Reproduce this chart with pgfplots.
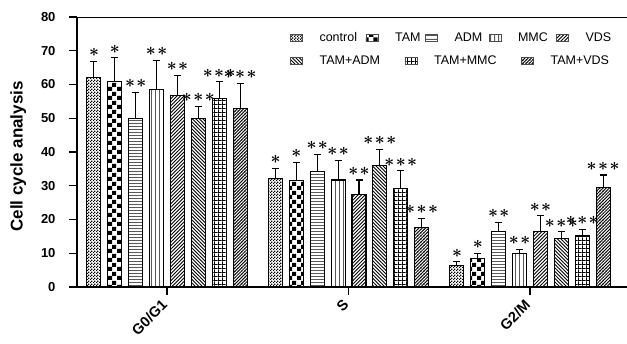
\documentclass[border=0pt]{standalone}
\usepackage{fontspec}
\setmainfont{Liberation Sans}
\usepackage{pgfplots}
\pgfplotsset{compat=1.18}
\usetikzlibrary{patterns,calc}

\pgfdeclarepatternformonly{pcontrol}{\pgfqpoint{0pt}{0pt}}{\pgfqpoint{3pt}{3pt}}{\pgfqpoint{3pt}{3pt}}{%
 \pgfpathrectangle{\pgfqpoint{0pt}{0pt}}{\pgfqpoint{1.5pt}{1.5pt}}%
 \pgfpathrectangle{\pgfqpoint{1.5pt}{1.5pt}}{\pgfqpoint{1.5pt}{1.5pt}}%
 \pgfusepath{fill}}
\pgfdeclarepatternformonly{ptam}{\pgfqpoint{0pt}{0pt}}{\pgfqpoint{9pt}{9pt}}{\pgfqpoint{9pt}{9pt}}{%
 \pgfpathrectangle{\pgfqpoint{0pt}{0pt}}{\pgfqpoint{4.5pt}{4.5pt}}%
 \pgfpathrectangle{\pgfqpoint{4.5pt}{4.5pt}}{\pgfqpoint{4.5pt}{4.5pt}}%
 \pgfusepath{fill}}
\pgfdeclarepatternformonly{padm}{\pgfqpoint{0pt}{0pt}}{\pgfqpoint{1pt}{3.4pt}}{\pgfqpoint{1pt}{3.4pt}}{%
 \pgfpathrectangle{\pgfqpoint{0pt}{0pt}}{\pgfqpoint{1pt}{1.1pt}}\pgfusepath{fill}}
\pgfdeclarepatternformonly{pmmc}{\pgfqpoint{0pt}{0pt}}{\pgfqpoint{3.6pt}{1pt}}{\pgfqpoint{3.6pt}{1pt}}{%
 \pgfpathrectangle{\pgfqpoint{0pt}{0pt}}{\pgfqpoint{1.1pt}{1pt}}\pgfusepath{fill}}
\pgfdeclarepatternformonly{pvds}{\pgfqpoint{-1pt}{-1pt}}{\pgfqpoint{4.5pt}{4.5pt}}{\pgfqpoint{3.5pt}{3.5pt}}{%
 \pgfsetlinewidth{0.8pt}\pgfpathmoveto{\pgfqpoint{0pt}{0pt}}\pgfpathlineto{\pgfqpoint{3.6pt}{3.6pt}}\pgfusepath{stroke}}
\pgfdeclarepatternformonly{ptadm}{\pgfqpoint{-1pt}{-1pt}}{\pgfqpoint{4.5pt}{4.5pt}}{\pgfqpoint{3.5pt}{3.5pt}}{%
 \pgfsetlinewidth{0.8pt}\pgfpathmoveto{\pgfqpoint{0pt}{3.5pt}}\pgfpathlineto{\pgfqpoint{3.6pt}{-0.1pt}}\pgfusepath{stroke}}
\pgfdeclarepatternformonly{pgridm}{\pgfqpoint{0pt}{0pt}}{\pgfqpoint{4.2pt}{4.2pt}}{\pgfqpoint{4.2pt}{4.2pt}}{%
 \pgfpathrectangle{\pgfqpoint{0pt}{0pt}}{\pgfqpoint{4.2pt}{0.9pt}}%
 \pgfpathrectangle{\pgfqpoint{0pt}{0pt}}{\pgfqpoint{0.9pt}{4.2pt}}\pgfusepath{fill}}
\pgfdeclarepatternformonly{ptvds}{\pgfqpoint{-1pt}{-1pt}}{\pgfqpoint{4.2pt}{4.2pt}}{\pgfqpoint{3.2pt}{3.2pt}}{%
 \pgfsetlinewidth{0.85pt}\pgfpathmoveto{\pgfqpoint{0pt}{0pt}}\pgfpathlineto{\pgfqpoint{3.3pt}{3.3pt}}\pgfusepath{stroke}%
 \pgfsetlinewidth{0.35pt}\pgfpathmoveto{\pgfqpoint{1.0pt}{2.2pt}}\pgfpathlineto{\pgfqpoint{2.2pt}{1.0pt}}\pgfusepath{stroke}}

\newcommand\starfont{\fontsize{17.5}{17.5}\selectfont\boldmath}
\newcommand\legfont{\fontsize{12.5}{12.5}\selectfont}
\newcommand\sone{{\ast}}
\newcommand\stwo{{\ast}\kern1.5pt{\ast}}
\newcommand\sthr{{\ast}\kern1.5pt{\ast}\kern1.5pt{\ast}}
\newcommand\starat[3]{\node[anchor=base, inner sep=0pt, yshift=4.5pt, font=\starfont] at (axis cs:#1,#2) {$#3$};}
\newcommand\lbox[2]{\hbox to #1{\kern15pt #2\hfil}}

\pgfplotsset{
 eb/.style={draw=black, line width=1.1pt,
  error bars/y dir=plus, error bars/y explicit,
  error bars/error bar style={line width=1.1pt, black},
  error bars/error mark options={rotate=90, mark size=3.5pt, line width=1.1pt, black}}
}

\begin{document}
\begin{tikzpicture}
\begin{axis}[name=ax, scale only axis, width=550pt, height=270pt,
 ybar=6.9pt, bar width=14pt,
 xmin=-0.496, xmax=2.534, ymin=0, ymax=80,
 axis x line*=bottom, axis y line*=left,
 axis line style={line width=1.2pt},
 ytick={0,10,...,80}, xtick={0,1,2}, xticklabels={G0/G1,S,G2/M},
 tick align=outside, tick style={line width=1.2pt, black},
 major tick length=8pt,
 /pgf/number format/assume math mode=true,
 yticklabel style={font=\bfseries\fontsize{13}{13}\selectfont, xshift=-10pt},
 xticklabel style={font=\bfseries\fontsize{14.5}{14.5}\selectfont, rotate=45, anchor=east},
 xticklabel shift=5pt,
 ylabel={Cell cycle analysis},
 ylabel style={font=\bfseries\fontsize{17}{17}\selectfont, at={(rel axis cs:-0.107,0.484)}, anchor=center},
 legend columns=5, legend cell align=left,
 legend style={at={(rel axis cs:0.387,0.922)}, anchor=west, draw=none, fill=none, inner sep=0pt, column sep=0pt, font=\legfont},
 legend image code/.code={\draw[#1, draw=black!70, line width=0.5pt] (0pt,-3.5pt) rectangle (12pt,3.5pt);},
]
\addplot[eb, pattern=pcontrol] coordinates {(0,62.0) +- (0,4.9) (1,32.2) +- (0,3.0) (2,6.3) +- (0,1.2)};
\addlegendentry{\lbox{59pt}{control}}
\addplot[eb, pattern=ptam] coordinates {(0,60.8) +- (0,7.1) (1,31.5) +- (0,5.4) (2,8.5) +- (0,1.5)};
\addlegendentry{\lbox{43pt}{TAM}}
\addplot[eb, pattern=padm] coordinates {(0,50.0) +- (0,7.7) (1,34.2) +- (0,5.1) (2,16.4) +- (0,2.8)};
\addlegendentry{\lbox{47pt}{ADM}}
\addplot[eb, pattern=pmmc] coordinates {(0,58.4) +- (0,8.8) (1,31.7) +- (0,5.9) (2,10.0) +- (0,1.2)};
\addlegendentry{\lbox{51pt}{MMC}}
\addplot[eb, pattern=pvds] coordinates {(0,56.7) +- (0,6.0) (1,27.3) +- (0,4.4) (2,16.4) +- (0,4.7)};
\addlegendentry{\kern15pt VDS}
\addplot[eb, pattern=ptadm] coordinates {(0,50.0) +- (0,3.6) (1,35.9) +- (0,4.9) (2,14.4) +- (0,2.0)};
\addplot[eb, pattern=pgridm] coordinates {(0,55.9) +- (0,4.9) (1,29.2) +- (0,5.3) (2,15.1) +- (0,2.0)};
\addplot[eb, pattern=ptvds] coordinates {(0,52.9) +- (0,7.4) (1,17.6) +- (0,2.8) (2,29.4) +- (0,3.8)};
\draw[line width=1.2pt] (rel axis cs:0,1) -- (rel axis cs:1,1);
\starat{-0.4025}{66.9}{\sone}\starat{-0.2875}{67.9}{\sone}\starat{-0.1725}{57.7}{\stwo}\starat{-0.0575}{67.2}{\stwo}
\starat{0.0575}{62.7}{\stwo}\starat{0.1725}{53.6}{\sthr}\starat{0.2875}{60.8}{\sthr}\starat{0.4025}{60.3}{\sthr}
\starat{0.5975}{35.2}{\sone}\starat{0.7125}{36.9}{\sone}\starat{0.8275}{39.3}{\stwo}\starat{0.9425}{37.6}{\stwo}
\starat{1.0575}{31.7}{\stwo}\starat{1.1725}{40.8}{\sthr}\starat{1.2875}{34.5}{\sthr}\starat{1.4025}{20.4}{\sthr}
\starat{1.5975}{7.5}{\sone}\starat{1.7125}{10.0}{\sone}\starat{1.8275}{19.2}{\stwo}\starat{1.9425}{11.2}{\stwo}
\starat{2.0575}{21.1}{\stwo}\starat{2.1725}{16.4}{\sthr}\starat{2.2875}{17.1}{\sthr}\starat{2.4025}{33.2}{\sthr}
\end{axis}
\begin{axis}[at={(ax.south west)}, anchor=south west, scale only axis, width=550pt, height=270pt,
 xmin=-0.496, xmax=2.534, ymin=0, ymax=80, hide axis,
 legend columns=3, legend cell align=left,
 legend style={at={(rel axis cs:0.387,0.837)}, anchor=west, draw=none, fill=none, inner sep=0pt, column sep=0pt, font=\legfont},
 legend image code/.code={\draw[#1, draw=black!70, line width=0.5pt] (0pt,-3.5pt) rectangle (12pt,3.5pt);},
]
\addlegendimage{pattern=ptadm}\addlegendentry{\lbox{98pt}{TAM+ADM}}
\addlegendimage{pattern=pgridm}\addlegendentry{\lbox{100pt}{TAM+MMC}}
\addlegendimage{pattern=ptvds}\addlegendentry{\kern15pt TAM+VDS}
\end{axis}
\pgfresetboundingbox
\useasboundingbox ($(ax.south west)+(-77pt,-56pt)$) rectangle ($(ax.south west)+(550pt,287pt)$);
\end{tikzpicture}
\end{document}
